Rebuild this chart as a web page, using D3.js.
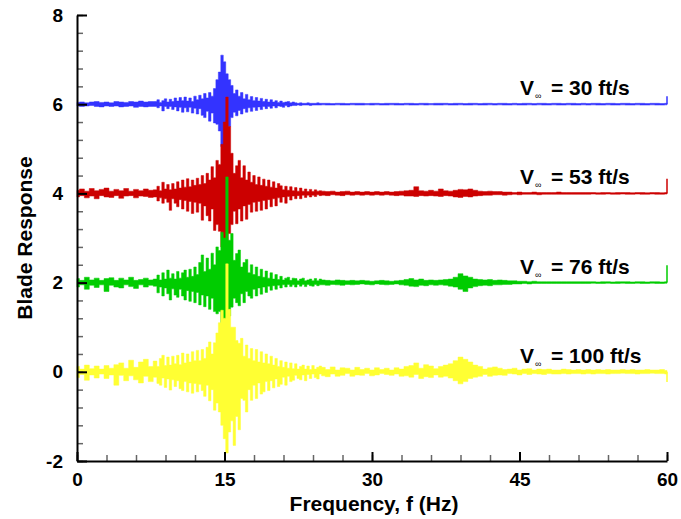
<!DOCTYPE html>
<html>
<head>
<meta charset="utf-8">
<script src="https://cdn.jsdelivr.net/npm/d3@7"></script>
<style>
  html, body { margin: 0; padding: 0; background: #fff; }
  svg { display: block; }
  text { font-family: "Liberation Sans", Arial, sans-serif; font-weight: bold; fill: #000; }
</style>
</head>
<body>
<svg id="chart" width="681" height="519"></svg>
<script>
// Sampling grid of the response spectra (Hz): coarse below 8 Hz and above 25 Hz,
// fine around the first bending mode.
const freqLow  = d3.range(0, 7.75, 0.5);     // 16 samples
const freqMid  = d3.range(8, 24.9, 0.25);    // 68 samples
const freqHigh = d3.range(25, 60.01, 0.5);   // 71 samples
const frequencies = [...freqLow, ...freqMid, ...freqHigh];

// Free-stream speeds and the vertical offset each response is plotted at
const speeds  = [30, 53, 76, 100];
const offsets = [6, 4, 2, 0];
const colors  = ["#3333ff", "#cc0000", "#00cc00", "#ffff33"];

// Upper / lower envelope of each response, relative to its offset
const blueHi = [
  .04,.05,.03,.05,.06,.04,.05,.03,.06,.05,.04,.06,.05,.07,.05,.06,
  .06,.10,.04,.08,.12,.05,.11,.06,.14,.07,.15,.08,.16,.07,.14,.06,.18,
  .10,.20,.12,.24,.14,.26,.18,.35,.55,.72,1.10,.95,.68,.55,.42,.24,.32,
  .18,.26,.12,.22,.10,.17,.08,.15,.07,.13,.06,.11,.05,.10,.05,.08,.04,
  .07,.04,.05,.06,.03,.05,.03,.02,.03,.02,.02,.03,.02,.02,.02,.03,.02,
  .02,.02,.015,.02,.02,.015,.02,.02,.02,.015,.02,.02,.015,.02,.02,.02,.015,.02,
  .02,.015,.02,.02,.015,.02,.02,.02,.015,.02,.02,.015,.02,.02,.015,.02,.02,.015,
  .02,.02,.015,.02,.015,.02,.02,.015,.02,.02,.015,.02,.02,.015,.02,.02,.015,.02,
  .015,.02,.02,.015,.02,.02,.015,.02,.02,.015,.02,.02,.015,.02,.02,.015,.02
];
const blueLo = [
  -.04,-.05,-.04,-.03,-.05,-.06,-.04,-.05,-.04,-.06,-.05,-.04,-.07,-.05,-.06,-.05,
  -.05,-.08,-.04,-.15,-.05,-.10,-.05,-.12,-.06,-.15,-.07,-.18,-.08,-.17,-.07,-.20,-.09,
  -.22,-.10,-.25,-.30,-.16,-.38,-.20,-.42,-.45,-.60,-.95,-1.03,-.85,-.50,-.30,-.18,-.26,
  -.14,-.22,-.10,-.18,-.08,-.16,-.07,-.14,-.06,-.12,-.05,-.10,-.05,-.09,-.04,-.08,-.04,
  -.05,-.07,-.03,-.06,-.04,-.03,-.03,-.02,-.03,-.02,-.02,-.02,-.03,-.02,-.02,-.02,-.02,
  -.015,-.02,-.02,-.015,-.02,-.02,-.015,-.02,-.02,-.015,-.02,-.015,-.02,-.02,-.015,-.02,-.02,-.015,
  -.02,-.02,-.015,-.02,-.015,-.02,-.02,-.015,-.02,-.02,-.015,-.02,-.02,-.015,-.02,-.02,-.015,-.02,
  -.015,-.02,-.02,-.015,-.02,-.02,-.015,-.02,-.015,-.02,-.02,-.015,-.02,-.02,-.015,-.02,-.02,-.015,
  -.02,-.015,-.02,-.02,-.015,-.02,-.02,-.015,-.02,-.02,-.015,-.02,-.02,-.015,-.02,-.02,-.015
];

const redHi = [
  .07,.10,.05,.11,.06,.09,.12,.05,.09,.06,.11,.05,.09,.06,.10,.07,
  .08,.16,.06,.25,.10,.20,.08,.22,.10,.26,.12,.30,.14,.33,.15,.30,.18,
  .34,.20,.40,.22,.45,.30,.60,.35,.74,.65,1.10,1.60,2.16,1.50,.90,.45,.62,
  .74,.35,.62,.30,.48,.25,.40,.20,.37,.18,.32,.16,.30,.14,.26,.12,.22,
  .17,.08,.16,.07,.15,.06,.13,.05,.12,.05,.10,.04,.09,.04,.08,.05,.06,
  .05,.04,.05,.03,.04,.05,.03,.04,.03,.04,.03,.04,.03,.04,.03,.04,.05,.06,
  .07,.15,.06,.05,.07,.05,.10,.06,.05,.07,.09,.08,.10,.07,.05,.04,.05,.04,
  .04,.03,.03,.02,.03,.02,.02,.03,.02,.02,.02,.02,.03,.02,.02,.02,.02,.02,
  .02,.02,.015,.02,.02,.015,.02,.02,.02,.015,.02,.02,.015,.02,.02,.015,.02
];
const redLo = [
  -.08,-.05,-.10,-.06,-.12,-.05,-.08,-.09,-.05,-.11,-.06,-.05,-.10,-.06,-.07,-.09,
  -.08,-.17,-.10,-.22,-.12,-.20,-.38,-.12,-.22,-.30,-.14,-.35,-.16,-.40,-.18,-.45,-.20,
  -.42,-.22,-.60,-.28,-.50,-.62,-.35,-.83,-.70,-.85,-1.20,-1.27,-1.10,-.90,-.70,-.40,-.68,
  -.35,-.62,-.28,-.58,-.25,-.42,-.20,-.40,-.18,-.38,-.16,-.35,-.14,-.30,-.12,-.28,-.10,
  -.20,-.08,-.22,-.07,-.15,-.06,-.12,-.05,-.12,-.04,-.09,-.04,-.08,-.04,-.07,-.03,-.05,
  -.04,-.05,-.03,-.04,-.05,-.03,-.04,-.03,-.04,-.03,-.04,-.03,-.04,-.03,-.04,-.05,-.04,-.06,
  -.06,-.07,-.05,-.06,-.05,-.06,-.07,-.05,-.06,-.08,-.09,-.07,-.08,-.06,-.05,-.04,-.04,-.03,
  -.03,-.04,-.03,-.02,-.03,-.02,-.02,-.02,-.03,-.02,-.02,-.02,-.02,-.02,-.02,-.02,-.02,-.02,
  -.02,-.015,-.02,-.02,-.015,-.02,-.02,-.015,-.02,-.02,-.015,-.02,-.02,-.015,-.02,-.02,-.015
];

const greenHi = [
  .09,.05,.12,.06,.10,.05,.09,.11,.05,.10,.06,.12,.05,.07,.10,.06,
  .08,.17,.06,.22,.08,.28,.10,.20,.08,.25,.10,.22,.28,.12,.30,.14,.35,
  .18,.45,.62,.25,.55,.30,.66,.40,.80,.72,1.13,1.00,2.37,.95,1.10,.50,.65,
  .73,.35,.45,.52,.22,.40,.18,.35,.14,.30,.12,.26,.10,.22,.08,.18,.07,
  .14,.06,.10,.12,.05,.10,.09,.04,.08,.10,.04,.06,.08,.04,.09,.04,.08,
  .06,.05,.04,.06,.05,.04,.05,.04,.05,.04,.03,.04,.05,.04,.03,.04,.05,.07,
  .09,.06,.08,.05,.06,.05,.06,.07,.08,.12,.20,.15,.12,.08,.07,.06,.07,.05,
  .06,.05,.04,.04,.03,.03,.02,.03,.02,.02,.02,.02,.02,.02,.02,.02,.02,.02,
  .02,.02,.015,.02,.02,.015,.02,.02,.02,.015,.02,.02,.015,.02,.02,.015,.02
];
const greenLo = [
  -.10,-.05,-.15,-.06,-.11,-.05,-.20,-.06,-.10,-.12,-.05,-.09,-.13,-.05,-.10,-.06,
  -.08,-.23,-.10,-.30,-.12,-.25,-.39,-.14,-.28,-.33,-.15,-.30,-.39,-.18,-.42,-.20,-.45,
  -.22,-.50,-.28,-.54,-.30,-.60,-.35,-.65,-.70,-.65,-.90,-1.06,-.85,-.75,-.55,-.35,-.45,
  -.52,-.25,-.45,-.20,-.30,-.35,-.15,-.30,-.12,-.26,-.10,-.22,-.08,-.17,-.07,-.15,-.06,
  -.12,-.05,-.10,-.04,-.09,-.05,-.10,-.04,-.08,-.04,-.09,-.04,-.07,-.08,-.04,-.07,-.05,
  -.05,-.06,-.04,-.05,-.06,-.04,-.05,-.04,-.03,-.04,-.05,-.03,-.04,-.05,-.04,-.03,-.05,-.06,
  -.08,-.09,-.06,-.07,-.05,-.06,-.05,-.06,-.08,-.10,-.15,-.20,-.12,-.09,-.07,-.06,-.07,-.05,
  -.05,-.04,-.04,-.03,-.03,-.02,-.03,-.02,-.02,-.02,-.02,-.02,-.02,-.02,-.02,-.02,-.02,-.02,
  -.02,-.015,-.02,-.02,-.015,-.02,-.02,-.015,-.02,-.02,-.015,-.02,-.02,-.015,-.02,-.02,-.015
];

const yellowHi = [
  .12,.06,.15,.07,.13,.06,.14,.08,.16,.20,.08,.26,.10,.22,.28,.12,
  .24,.12,.30,.37,.14,.33,.15,.35,.18,.37,.16,.42,.20,.40,.22,.45,.25,
  .48,.25,.50,.30,.55,.67,.40,.65,.87,1.10,1.38,1.20,2.42,1.40,1.00,1.00,.70,
  .64,.75,.35,.60,.30,.52,.25,.50,.22,.45,.20,.40,.18,.35,.15,.30,.12,
  .25,.10,.22,.08,.20,.07,.18,.06,.12,.15,.06,.13,.05,.14,.06,.10,.13,
  .10,.05,.11,.04,.09,.08,.04,.10,.05,.08,.04,.09,.05,.08,.04,.09,.06,.12,
  .14,.20,.08,.16,.13,.07,.12,.15,.18,.25,.33,.28,.22,.15,.12,.06,.09,.11,
  .08,.05,.06,.08,.04,.06,.07,.04,.06,.05,.06,.04,.04,.06,.05,.04,.05,.04,
  .05,.04,.05,.04,.05,.04,.04,.05,.04,.05,.04,.04,.05,.04,.04,.05,.03
];
const yellowLo = [
  -.13,-.06,-.19,-.07,-.14,-.05,-.15,-.07,-.30,-.08,-.20,-.09,-.18,-.25,-.10,-.22,
  -.12,-.26,-.30,-.14,-.35,-.16,-.41,-.18,-.33,-.20,-.38,-.42,-.22,-.45,-.25,-.48,-.26,
  -.45,-.28,-.42,-.55,-.30,-.65,-.40,-.86,-.70,-.90,-1.20,-1.50,-1.82,-1.35,-1.10,-1.65,-1.00,
  -1.30,-.60,-.64,-.90,-.40,-.64,-.30,-.60,-.25,-.50,-.45,-.22,-.42,-.20,-.36,-.16,-.33,
  -.28,-.12,-.30,-.10,-.22,-.19,-.08,-.15,-.18,-.07,-.20,-.06,-.15,-.05,-.13,-.16,-.05,
  -.09,-.11,-.05,-.10,-.08,-.04,-.10,-.07,-.08,-.04,-.09,-.07,-.04,-.06,-.08,-.05,-.10,-.09,
  -.12,-.06,-.15,-.11,-.13,-.07,-.12,-.10,-.14,-.20,-.27,-.22,-.15,-.12,-.10,-.06,-.10,-.08,
  -.07,-.08,-.04,-.05,-.07,-.04,-.06,-.04,-.05,-.06,-.04,-.05,-.05,-.04,-.05,-.04,-.04,-.05,
  -.04,-.05,-.04,-.04,-.05,-.04,-.04,-.03,-.04,-.04,-.05,-.04,-.04,-.03,-.04,-.04,-.05
];

// Value each trace steps to at the last sample (60 Hz), relative to its offset
const endSteps = [0.18, 0.33, 0.39, -0.23];

const highs = [blueHi, redHi, greenHi, yellowHi];
const lows  = [blueLo, redLo, greenLo, yellowLo];

// Axis ticks
const xTicks = [0, 15, 30, 45, 60];
const yTicks = [-2, 0, 2, 4, 6, 8];

const svg = d3.select("#chart");
const x = d3.scaleLinear().domain([0, 60]).range([77, 667]);
const y = d3.scaleLinear().domain([-2, 8]).range([461, 15]);

// Response traces, drawn slowest first so faster runs sit on top
const plot = svg.append("g");
speeds.forEach((s, i) => {
  const pts = frequencies.map((f, j) => ({ f, hi: highs[i][j], lo: lows[i][j] }));
  const area = d3.area()
    .curve(d3.curveStep)
    .x(d => x(d.f))
    .y0(d => y(offsets[i] + d.lo))
    .y1(d => y(offsets[i] + d.hi));
  plot.append("path")
    .datum(pts)
    .attr("d", area)
    .attr("fill", colors[i])
    .attr("stroke", colors[i])
    .attr("stroke-width", 0.5);
  plot.append("line")
    .attr("x1", x(60)).attr("x2", x(60))
    .attr("y1", y(offsets[i])).attr("y2", y(offsets[i] + endSteps[i]))
    .attr("stroke", colors[i])
    .attr("stroke-width", 1.5);
});

// Minor ticks
svg.append("g")
  .attr("transform", `translate(${x(0)},0)`)
  .call(d3.axisLeft(y).tickValues(d3.range(-2, 8.01, 0.4)).tickSize(-6).tickSizeOuter(0).tickFormat(""))
  .call(g => g.select(".domain").remove())
  .call(g => g.selectAll("line").attr("stroke", "#666").attr("stroke-width", 1.5));
svg.append("g")
  .attr("transform", `translate(0,${y(-2)})`)
  .call(d3.axisBottom(x).tickValues(d3.range(0, 60.01, 3)).tickSize(-6).tickSizeOuter(0).tickFormat(""))
  .call(g => g.select(".domain").remove())
  .call(g => g.selectAll("line").attr("stroke", "#666").attr("stroke-width", 1.5));

// Major ticks and labels
const yAxis = svg.append("g")
  .attr("transform", `translate(${x(0)},0)`)
  .call(d3.axisLeft(y).tickValues(yTicks).tickSize(-10).tickSizeOuter(0).tickPadding(14).tickFormat(d3.format("d")));
const xAxis = svg.append("g")
  .attr("transform", `translate(0,${y(-2)})`)
  .call(d3.axisBottom(x).tickValues(xTicks).tickSize(-9).tickSizeOuter(0).tickPadding(12).tickFormat(d3.format("d")));
[yAxis, xAxis].forEach(g => {
  g.select(".domain").attr("stroke", "#000").attr("stroke-width", 2);
  g.selectAll(".tick line").attr("stroke", "#000").attr("stroke-width", 2);
  g.selectAll(".tick text")
    .attr("fill", "#000")
    .style("font-family", '"Liberation Sans", Arial, sans-serif')
    .style("font-weight", "bold")
    .style("font-size", "19px");
});
yAxis.selectAll(".tick text").text(d => d < 0 ? "-" + Math.abs(d) : d);

// Axis titles
svg.append("text")
  .attr("transform", "translate(32,238) rotate(-90)")
  .attr("text-anchor", "middle")
  .style("font-size", "21px")
  .text("Blade Response");
svg.append("text")
  .attr("x", 374).attr("y", 511)
  .attr("text-anchor", "middle")
  .style("font-size", "21px")
  .text("Frequency, f (Hz)");

// Speed labels above each trace
speeds.forEach((s, i) => {
  const t = svg.append("text")
    .attr("y", y(offsets[i]) - 9)
    .style("font-size", "21px");
  t.append("tspan").attr("x", 520).text("V");
  t.append("tspan").attr("x", 535).attr("dy", 4).style("font-size", "9px").style("font-weight", "normal").text("∞");
  t.append("tspan").attr("x", 551).attr("dy", -4).text(`= ${s} ft/s`);
});
</script>
</body>
</html>
